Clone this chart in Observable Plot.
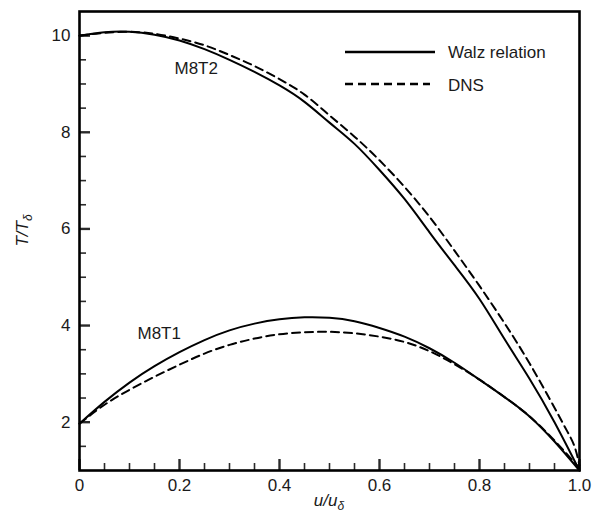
<!DOCTYPE html>
<html><head><meta charset="utf-8">
<script src="https://cdn.jsdelivr.net/npm/d3@7"></script>
<script src="https://cdn.jsdelivr.net/npm/@observablehq/plot@0.6"></script>
<style>
body{margin:0;background:#fff;}
#chart{position:relative;width:601px;height:516px;}
</style></head><body><div id="chart"></div>
<script>
// ---- data ----
const walzT2U = [0,0.05,0.1,0.15,0.2,0.25,0.3,0.35,0.4,0.45,0.5,0.55,0.6,0.65,0.7,0.75,0.8,0.85,0.9,0.95,1.0];
const walzT2T = [10.0,10.07,10.08,10.02,9.9,9.72,9.5,9.25,8.97,8.63,8.2,7.76,7.22,6.62,5.93,5.25,4.55,3.72,2.9,2.0,1.0];
const dnsT2U  = [0,0.05,0.1,0.15,0.2,0.25,0.3,0.35,0.4,0.45,0.5,0.55,0.6,0.65,0.7,0.75,0.8,0.85,0.9,0.95,0.975,0.99,1.0];
const dnsT2T  = [10.0,10.06,10.08,10.04,9.94,9.8,9.6,9.37,9.1,8.78,8.35,7.91,7.42,6.87,6.25,5.55,4.82,4.05,3.22,2.3,1.82,1.5,1.1];
const walzT1U = [0,0.05,0.1,0.15,0.2,0.25,0.3,0.35,0.4,0.45,0.5,0.55,0.6,0.65,0.7,0.75,0.8,0.85,0.9,0.95,1.0];
const walzT1T = [1.97,2.42,2.82,3.16,3.45,3.7,3.9,4.04,4.13,4.17,4.16,4.09,3.95,3.77,3.53,3.23,2.88,2.52,2.12,1.6,1.0];
const dnsT1U  = [0,0.05,0.1,0.15,0.2,0.25,0.3,0.35,0.4,0.45,0.5,0.55,0.6,0.65,0.7,0.75,0.8,0.85,0.9,0.95,1.0];
const dnsT1T  = [1.97,2.36,2.67,2.94,3.19,3.42,3.6,3.73,3.82,3.86,3.87,3.84,3.77,3.66,3.47,3.2,2.88,2.52,2.12,1.62,1.05];

const xTicks = [0,0.2,0.4,0.6,0.8,1.0];
const xTickLabels = ["0","0.2","0.4","0.6","0.8","1.0"];
const xMinor = [0.05,0.1,0.15,0.25,0.3,0.35,0.45,0.5,0.55,0.65,0.7,0.75,0.85,0.9,0.95];
const yTicks = [2,4,6,8,10];
const yTickLabels = ["2","4","6","8","10"];
const yMinor = [1.5,2.5,3,3.5,4.5,5,5.5,6.5,7,7.5,8.5,9,9.5];

const annotations = [{text:"M8T2", u:0.19, T:9.32},{text:"M8T1", u:0.116, T:3.83}];

const toRows = (us, ts) => us.map((u,i)=>({u, T: ts[i]}));
const W = 601, H = 516, mL = 79, mR = 22, mT = 11, mB = 46;
const plotH = H - mT - mB, plotW = W - mL - mR;
const font = "'Liberation Sans', Arial, Helvetica, sans-serif";
const ink = "#1a1a1a";
const tickInk = "#2b2b2b";

const svg = Plot.plot({
  width: W, height: H, marginLeft: mL, marginRight: mR, marginTop: mT, marginBottom: mB,
  x: {domain: [0, 1]},
  y: {domain: [1, 10.5]},
  style: {fontFamily: font, fontSize: "17px", color: ink, background: "#fff"},
  marks: [
    Plot.ruleX(xMinor, {insetTop: plotH - 7, stroke: tickInk, strokeWidth: 1.6}),
    Plot.ruleX(xTicks, {insetTop: plotH - 11, stroke: tickInk, strokeWidth: 2.4}),
    Plot.ruleY(yMinor, {insetRight: plotW - 7, stroke: tickInk, strokeWidth: 1.6}),
    Plot.ruleY(yTicks, {insetRight: plotW - 11, stroke: tickInk, strokeWidth: 2.4}),
    Plot.axisX({ticks: xTicks, tickSize: 0, tickPadding: 8, label: null,
      tickFormat: d => xTickLabels[xTicks.indexOf(d)]}),
    Plot.axisY({ticks: yTicks, tickSize: 0, tickPadding: 9, label: null,
      tickFormat: d => yTickLabels[yTicks.indexOf(d)]}),
    Plot.line(toRows(walzT2U, walzT2T), {x: "u", y: "T", stroke: "#000", strokeWidth: 2, curve: "natural"}),
    Plot.line(toRows(dnsT2U, dnsT2T), {x: "u", y: "T", stroke: "#000", strokeWidth: 2, strokeDasharray: "8,5", curve: "natural"}),
    Plot.line(toRows(walzT1U, walzT1T), {x: "u", y: "T", stroke: "#000", strokeWidth: 2, curve: "natural"}),
    Plot.line(toRows(dnsT1U, dnsT1T), {x: "u", y: "T", stroke: "#000", strokeWidth: 2, strokeDasharray: "8,5", curve: "natural"}),
    Plot.text(annotations, {x: "u", y: "T", text: "text", textAnchor: "start", fontSize: 17, fill: ink}),
    Plot.frame({stroke: "#000", strokeWidth: 2.6})
  ]
});

const s = d3.select(svg);
// legend
const lg = s.append("g").attr("font-family", font).attr("font-size", 17).attr("fill", ink)
  .attr("text-anchor", "start");
lg.append("line").attr("x1", 345).attr("x2", 435).attr("y1", 52).attr("y2", 52)
  .attr("stroke", "#000").attr("stroke-width", 2.5);
lg.append("text").attr("x", 448).attr("y", 57.5).attr("text-anchor", "start").text("Walz relation");
lg.append("line").attr("x1", 345).attr("x2", 430).attr("y1", 84).attr("y2", 84)
  .attr("stroke", "#000").attr("stroke-width", 2.5).attr("stroke-dasharray", "8,5");
lg.append("text").attr("x", 448).attr("y", 90.5).attr("text-anchor", "start").text("DNS");

// axis labels
const xl = s.append("text").attr("x", mL + plotW / 2).attr("y", 506)
  .attr("text-anchor", "middle").attr("font-family", font).attr("font-size", 17)
  .attr("font-style", "italic").attr("fill", ink);
xl.append("tspan").text("u/u");
xl.append("tspan").attr("font-size", 12).attr("dy", 4).text("δ");

const yl = s.append("text").attr("transform", `translate(28,${mT + plotH / 2 - 10}) rotate(-90)`)
  .attr("text-anchor", "middle").attr("font-family", font).attr("font-size", 17)
  .attr("font-style", "italic").attr("fill", ink);
yl.append("tspan").text("T/T");
yl.append("tspan").attr("font-size", 12).attr("dy", 4).text("δ");

document.getElementById("chart").appendChild(svg);
</script></body></html>
